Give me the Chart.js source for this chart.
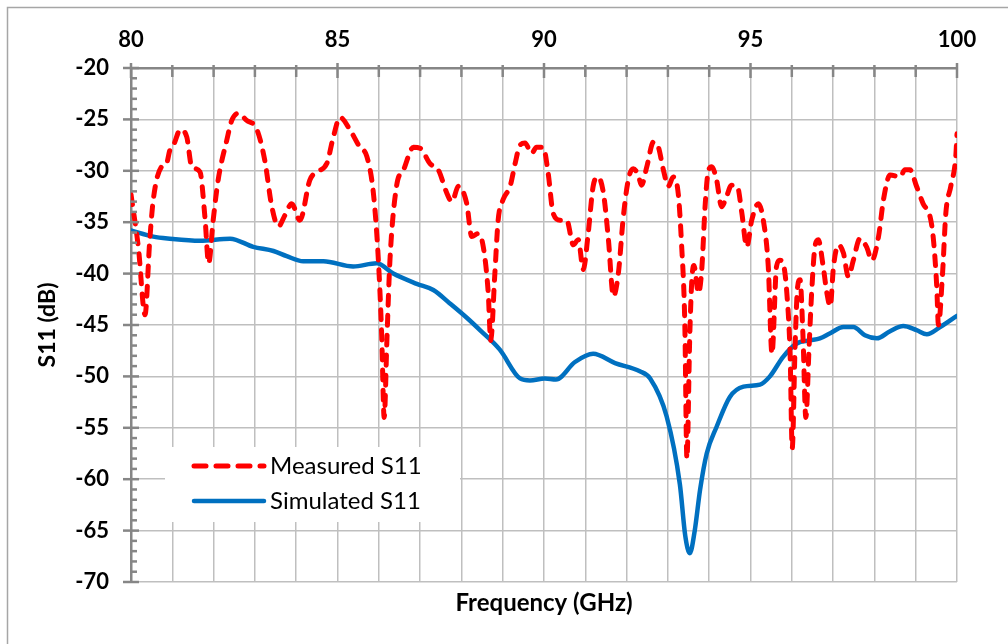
<!DOCTYPE html>
<html>
<head>
<meta charset="utf-8">
<title>S11</title>
<script src="https://cdn.jsdelivr.net/npm/chart.js@4.4.1/dist/chart.umd.min.js"></script>
<style>
  html, body { margin: 0; padding: 0; background: #fff; }
  canvas { display: block; }
</style>
</head>
<body>
<canvas id="grafica" width="1008" height="644"></canvas>
<script>
// Frecuencias (GHz) y S11 (dB)
const freqMeasured = [
  80.00, 80.18, 80.34, 80.45, 80.54, 80.74, 80.86, 80.94, 81.05, 81.19,
  81.35, 81.47, 81.67, 81.79, 81.88, 81.99, 82.11, 82.32, 82.44, 82.60,
  82.80, 83.04, 83.24, 83.41, 83.57, 83.73, 83.89, 84.09, 84.33, 84.50,
  84.74, 84.90, 85.06, 85.30, 85.54, 85.71, 85.87, 85.99, 86.07, 86.13,
  86.20, 86.27, 86.43, 86.60, 86.84, 87.00, 87.24, 87.44, 87.65, 87.77,
  87.93, 88.13, 88.25, 88.41, 88.53, 88.65, 88.71, 88.81, 88.89, 89.01,
  89.18, 89.30, 89.42, 89.54, 89.70, 89.82, 89.98, 90.10, 90.22, 90.39,
  90.55, 90.71, 90.83, 90.95, 91.07, 91.19, 91.31, 91.44, 91.56, 91.68,
  91.80, 91.92, 92.04, 92.16, 92.28, 92.36, 92.49, 92.65, 92.77, 92.89,
  93.01, 93.13, 93.25, 93.33, 93.41, 93.46, 93.53, 93.58, 93.63, 93.74,
  93.82, 93.90, 93.96, 94.06, 94.18, 94.30, 94.42, 94.54, 94.68, 94.79,
  94.91, 95.03, 95.19, 95.31, 95.43, 95.52, 95.63, 95.71, 95.79, 95.88,
  95.96, 96.01, 96.08, 96.14, 96.20, 96.27, 96.34, 96.42, 96.48, 96.56,
  96.64, 96.76, 96.85, 96.93, 97.01, 97.13, 97.25, 97.37, 97.49, 97.65,
  97.81, 97.94, 98.10, 98.22, 98.38, 98.62, 98.74, 98.86, 99.02, 99.18,
  99.35, 99.43, 99.51, 99.55, 99.65, 99.73, 99.85, 99.97, 100.00
];
const s11Measured = [
  -32.3, -37.5, -44.0, -37.0, -32.8, -29.6, -29.3, -28.0, -27.3, -26.0,
  -26.7, -29.6, -30.1, -34.5, -39.0, -34.8, -30.9, -27.0, -25.1, -24.4,
  -25.1, -25.9, -29.0, -33.5, -35.4, -34.3, -33.2, -34.8, -30.9, -30.1,
  -29.3, -26.7, -24.8, -26.0, -27.7, -28.6, -32.2, -38.7, -46.0, -54.0,
  -46.0, -38.7, -31.5, -29.9, -27.7, -27.8, -29.3, -29.9, -32.2, -33.0,
  -31.5, -33.2, -36.4, -36.1, -37.4, -41.9, -46.5, -40.0, -34.8, -32.8,
  -31.5, -29.3, -27.5, -27.3, -28.3, -27.7, -27.7, -30.2, -34.1, -34.8,
  -34.8, -37.2, -36.7, -39.6, -36.1, -31.5, -30.6, -32.2, -36.7, -42.2,
  -40.0, -34.5, -30.9, -29.8, -30.4, -31.4, -29.6, -27.2, -27.7, -29.9,
  -31.5, -30.6, -32.2, -37.1, -45.0, -58.0, -46.0, -40.6, -39.2, -41.9,
  -39.6, -33.5, -30.5, -29.6, -30.9, -33.5, -32.5, -31.4, -31.5, -34.1,
  -37.4, -34.8, -33.2, -34.8, -39.3, -47.8, -39.3, -38.7, -39.0, -41.9,
  -48.0, -57.0, -47.0, -41.3, -40.6, -46.0, -54.0, -47.0, -41.9, -37.4,
  -36.7, -39.3, -41.9, -43.2, -39.3, -37.2, -38.0, -40.3, -38.7, -36.6,
  -37.4, -38.7, -36.4, -32.8, -30.4, -30.6, -29.9, -29.9, -31.5, -33.2,
  -34.5, -36.7, -41.3, -45.0, -40.0, -34.1, -31.5, -28.6, -26.4
];
const freqSimulated = [
  80.00, 80.54, 80.94, 81.67, 82.40, 82.96, 83.45, 83.77, 84.17, 84.66,
  85.38, 85.95, 86.35, 86.92, 87.32, 87.72, 88.13, 88.45, 88.93, 89.42,
  89.66, 90.02, 90.29, 90.75, 91.19, 91.72, 92.32, 92.57, 92.97, 93.29,
  93.42, 93.53, 93.65, 93.78, 93.94, 94.18, 94.50, 94.83, 95.23, 95.47,
  95.79, 96.12, 96.44, 96.68, 96.93, 97.25, 97.49, 97.77, 98.06, 98.38,
  98.70, 99.02, 99.27, 99.59, 100.00
];
const s11Simulated = [
  -35.8, -36.4, -36.6, -36.8, -36.6, -37.4, -37.8, -38.3, -38.8, -38.8,
  -39.3, -39.0, -40.0, -41.0, -41.6, -42.9, -44.3, -45.5, -47.4, -50.2,
  -50.4, -50.2, -50.3, -48.6, -47.8, -48.7, -49.5, -50.2, -53.9, -60.5,
  -65.5, -67.2, -65.0, -61.0, -57.5, -54.9, -52.0, -51.0, -50.8, -50.0,
  -48.1, -46.8, -46.5, -46.3, -45.8, -45.2, -45.2, -46.0, -46.3, -45.6,
  -45.1, -45.5, -45.9, -45.2, -44.1
];
const xLabels = [80, 85, 90, 95, 100];
const yLabels = [-20, -25, -30, -35, -40, -45, -50, -55, -60, -65, -70];
const seriesNames = ["Measured S11", "Simulated S11"];

const fuente = 'Lato, "Liberation Sans", sans-serif';
Chart.defaults.font.family = fuente;
Chart.defaults.color = "#000";

function puntos(xs, ys) {
  return xs.map((f, i) => ({ x: f, y: ys[i] }));
}

// marcas de los ejes, marco exterior y leyenda dentro del area
const extras = {
  id: "extras",
  afterDraw(chart) {
    const ctx = chart.ctx;
    const area = chart.chartArea;
    const sx = chart.scales.x;
    const sy = chart.scales.y;
    ctx.save();

    ctx.strokeStyle = "#a6a6a6";
    ctx.lineWidth = 1.5;
    ctx.beginPath();
    ctx.moveTo(7.5, chart.height);
    ctx.lineTo(7.5, 7.5);
    ctx.lineTo(chart.width, 7.5);
    ctx.stroke();

    ctx.strokeStyle = "#868686";
    ctx.lineWidth = 2.5;
    sx.ticks.forEach((t) => {
      const px = sx.getPixelForValue(t.value);
      const mayor = xLabels.includes(t.value);
      ctx.beginPath();
      ctx.moveTo(px, area.top - (mayor ? 5 : 3));
      ctx.lineTo(px, area.top + (mayor ? 10 : 9));
      ctx.stroke();
    });
    sy.ticks.forEach((t) => {
      const py = sy.getPixelForValue(t.value);
      const mayor = yLabels.includes(t.value);
      ctx.beginPath();
      ctx.moveTo(area.left - (mayor ? 8 : 0), py);
      ctx.lineTo(area.left + (mayor ? 8 : 6), py);
      ctx.stroke();
    });

    // leyenda
    ctx.fillStyle = "#fff";
    ctx.fillRect(165, 447, 295, 75);
    chart.data.datasets.forEach((ds, i) => {
      const yy = 466 + i * 35;
      ctx.strokeStyle = ds.borderColor;
      ctx.lineWidth = ds.borderWidth;
      ctx.lineCap = "round";
      ctx.setLineDash(ds.borderDash ? [12, 10] : []);
      ctx.beginPath();
      ctx.moveTo(194, yy);
      ctx.lineTo(264, yy);
      ctx.stroke();
      ctx.setLineDash([]);
      ctx.fillStyle = "#000";
      ctx.font = "24px " + fuente;
      ctx.textBaseline = "middle";
      ctx.textAlign = "left";
      ctx.fillText(ds.label, 270, yy);
    });
    ctx.restore();
  },
};

const ctx = document.getElementById("grafica");

new Chart(ctx, {
  type: "line",
  data: {
    datasets: [
      {
        label: seriesNames[0],
        data: puntos(freqMeasured, s11Measured),
        borderColor: "#ff0000",
        borderWidth: 5,
        borderDash: [10, 10],
        borderCapStyle: "round",
        pointRadius: 0,
        cubicInterpolationMode: "monotone",
      },
      {
        label: seriesNames[1],
        data: puntos(freqSimulated, s11Simulated),
        borderColor: "#0070c0",
        borderWidth: 4.5,
        borderCapStyle: "round",
        pointRadius: 0,
        cubicInterpolationMode: "monotone",
      },
    ],
  },
  options: {
    responsive: false,
    animation: false,
    devicePixelRatio: 1,
    layout: { padding: { top: 0, left: 0, right: 51, bottom: 0 } },
    plugins: { legend: { display: false }, tooltip: { enabled: false } },
    scales: {
      x: {
        type: "linear",
        position: "top",
        min: 80,
        max: 100,
        afterFit: (s) => { s.height = 68; },
        ticks: {
          stepSize: 1,
          autoSkip: false,
          maxRotation: 0,
          padding: 15,
          font: { size: 22, weight: "bold" },
          callback: (v) => (xLabels.includes(v) ? v : ""),
        },
        grid: { color: "#bfbfbf", lineWidth: 1.5, drawTicks: false },
        border: { color: "#868686", width: 2.5 },
      },
      x2: {
        type: "linear",
        position: "bottom",
        min: 80,
        max: 100,
        afterFit: (s) => { s.height = 62; },
        ticks: { display: false },
        grid: { display: false, drawTicks: false },
        border: { display: false },
        title: {
          display: true,
          text: "Frequency (GHz)",
          font: { size: 24, weight: "bold" },
          padding: { top: 0, bottom: 26 },
        },
      },
      y: {
        min: -70,
        max: -20,
        afterFit: (s) => { s.width = 131; },
        ticks: {
          stepSize: 1,
          autoSkip: false,
          padding: 22,
          font: { size: 22, weight: "bold" },
          callback: (v) => (yLabels.includes(v) ? v : ""),
        },
        grid: {
          drawTicks: false,
          lineWidth: 1.5,
          color: (c) => (c.tick && yLabels.includes(c.tick.value) ? "#bfbfbf" : "rgba(0,0,0,0)"),
        },
        border: { color: "#868686", width: 2.5 },
        title: {
          display: true,
          text: "S11 (dB)",
          font: { size: 23, weight: "bold" },
          padding: { top: 34, bottom: 0 },
        },
      },
    },
  },
  plugins: [extras],
});
</script>
</body>
</html>
